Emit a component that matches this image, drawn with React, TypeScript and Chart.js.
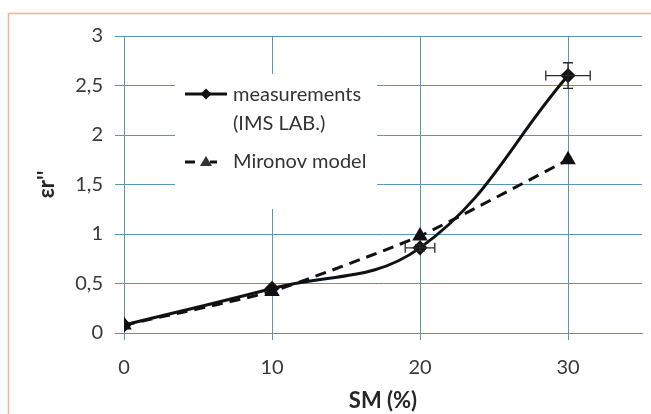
import React, { useEffect, useRef } from "react";
import { Chart, registerables } from "chart.js";

Chart.register(...registerables);

const smValues = [0, 10, 20, 30];
const measurements = [0.08, 0.45, 0.86, 2.6];
const measurementXErr = [0, 0, 1, 1.5];
const measurementYErr = [0, 0, 0.03, 0.13];
const mironov = [0.08, 0.42, 0.98, 1.75];
const yTickValues = [0, 0.5, 1, 1.5, 2, 2.5, 3];
const xTickValues = [0, 10, 20, 30];
const legendMeasurementLines = ["measurements", "(IMS LAB.)"];
const legendMironov = "Mironov model";

const FONT = "Lato, 'Open Sans', sans-serif";
const GRID = "#5a93b4";
const TEXT = "#383838";

const errorBarPlugin = {
  id: "errorBars",
  afterDatasetsDraw(chart: any) {
    const xs = chart.scales.x;
    const ys = chart.scales.y;
    const ctx = chart.ctx;
    ctx.save();
    ctx.strokeStyle = "#2a2a2a";
    ctx.lineWidth = 1.3;
    const cap = 5;
    smValues.forEach((xv, i) => {
      const yv = measurements[i];
      const px = xs.getPixelForValue(xv);
      const py = ys.getPixelForValue(yv);
      const ex = measurementXErr[i];
      const ey = measurementYErr[i];
      if (ex > 0) {
        const l = xs.getPixelForValue(xv - ex);
        const r = xs.getPixelForValue(xv + ex);
        ctx.beginPath();
        ctx.moveTo(l, py);
        ctx.lineTo(r, py);
        ctx.moveTo(l, py - cap);
        ctx.lineTo(l, py + cap);
        ctx.moveTo(r, py - cap);
        ctx.lineTo(r, py + cap);
        ctx.stroke();
      }
      if (ey > 0) {
        const t = ys.getPixelForValue(yv + ey);
        const b = ys.getPixelForValue(yv - ey);
        ctx.beginPath();
        ctx.moveTo(px, t);
        ctx.lineTo(px, b);
        ctx.moveTo(px - cap, t);
        ctx.lineTo(px + cap, t);
        ctx.moveTo(px - cap, b);
        ctx.lineTo(px + cap, b);
        ctx.stroke();
      }
    });
    ctx.restore();
  },
};

const frameLegendPlugin = {
  id: "frameLegend",
  beforeDraw(chart: any) {
    const ctx = chart.ctx;
    ctx.save();
    ctx.fillStyle = "#ffffff";
    ctx.fillRect(0, 0, chart.width, chart.height);
    ctx.strokeStyle = "#f0b49c";
    ctx.lineWidth = 1.5;
    ctx.beginPath();
    ctx.moveTo(8.5, chart.height + 5);
    ctx.lineTo(8.5, 13.5);
    ctx.lineTo(chart.width + 5, 13.5);
    ctx.stroke();
    ctx.restore();
  },
  afterDatasetsDraw(chart: any) {
    const ctx = chart.ctx;
    const a = chart.chartArea;
    const bx = a.left + 51;
    const by = a.top + 38;
    ctx.save();
    ctx.fillStyle = "#ffffff";
    ctx.fillRect(bx, by, 202, 135);
    // measurements sample
    const sx = bx + 10;
    const y1 = by + 20;
    ctx.strokeStyle = "#111";
    ctx.lineWidth = 3;
    ctx.setLineDash([]);
    ctx.beginPath();
    ctx.moveTo(sx, y1);
    ctx.lineTo(sx + 42, y1);
    ctx.stroke();
    ctx.fillStyle = "#111";
    ctx.beginPath();
    ctx.moveTo(sx + 21, y1 - 5.5);
    ctx.lineTo(sx + 26.5, y1);
    ctx.lineTo(sx + 21, y1 + 5.5);
    ctx.lineTo(sx + 15.5, y1);
    ctx.closePath();
    ctx.fill();
    // text
    ctx.fillStyle = "#333";
    ctx.font = `20px ${FONT}`;
    ctx.textBaseline = "middle";
    ctx.textAlign = "left";
    legendMeasurementLines.forEach((t, i) => ctx.fillText(t, sx + 48, y1 + 1 + i * 29));
    // mironov sample
    const y2 = by + 88;
    ctx.beginPath();
    ctx.moveTo(sx, y2);
    ctx.lineTo(sx + 10, y2);
    ctx.stroke();
    ctx.beginPath();
    ctx.moveTo(sx + 21, y2 - 6);
    ctx.lineTo(sx + 27, y2 + 4);
    ctx.lineTo(sx + 15, y2 + 4);
    ctx.closePath();
    ctx.fill();
    ctx.beginPath();
    ctx.moveTo(sx + 25, y2);
    ctx.lineTo(sx + 32, y2);
    ctx.stroke();
    ctx.fillText(legendMironov, sx + 48, y2);
    ctx.restore();
  },
};

export default function App() {
  const ref = useRef<HTMLCanvasElement | null>(null);
  useEffect(() => {
    if (!ref.current) return;
    const chart = new Chart(ref.current, {
      type: "line",
      data: {
        datasets: [
          {
            label: "measurements (IMS LAB.)",
            data: smValues.map((x, i) => ({ x, y: measurements[i] })),
            borderColor: "#111",
            backgroundColor: "#111",
            borderWidth: 3,
            pointStyle: "rectRot",
            pointRadius: 5.5,
            tension: 0.4,
          },
          {
            label: "Mironov model",
            data: smValues.map((x, i) => ({ x, y: mironov[i] })),
            borderColor: "#111",
            backgroundColor: "#111",
            borderWidth: 3,
            borderDash: [11, 7],
            pointStyle: "triangle",
            pointRadius: 6,
            tension: 0.15,
          },
        ],
      },
      options: {
        animation: false,
        responsive: false,
        maintainAspectRatio: false,
        layout: { padding: { left: 30, right: 8, top: 36, bottom: 0 } },
        plugins: { legend: { display: false }, tooltip: { enabled: false } },
        scales: {
          x: {
            type: "linear",
            min: 0,
            max: 35,
            afterBuildTicks: (s: any) => {
              s.ticks = xTickValues.map((v) => ({ value: v }));
            },
            afterFit: (s: any) => {
              s.height = 81;
            },
            grid: { color: GRID, tickLength: 7, lineWidth: 1 },
            border: { color: GRID, width: 1 },
            ticks: { color: TEXT, font: { family: FONT, size: 20 }, padding: 16 },
            title: {
              display: true,
              text: "SM (%)",
              color: "#262626",
              font: { family: FONT, size: 22, weight: "bold" },
              padding: { top: 0, bottom: 0 },
            },
          },
          y: {
            min: 0,
            max: 3,
            afterBuildTicks: (s: any) => {
              s.ticks = yTickValues.map((v) => ({ value: v }));
            },
            afterFit: (s: any) => {
              s.width = 94;
            },
            grid: { color: GRID, tickLength: 9, lineWidth: 1 },
            border: { color: GRID, width: 1 },
            ticks: {
              color: TEXT,
              font: { family: FONT, size: 20 },
              padding: 12,
              callback: (v: any) => String(v).replace(".", ","),
            },
            title: {
              display: true,
              text: "εr''",
              color: "#262626",
              font: { family: FONT, size: 22, weight: "bold" },
              padding: { top: 4, bottom: 0 },
            },
          },
        },
      },
      plugins: [frameLegendPlugin, errorBarPlugin],
    } as any);
    return () => chart.destroy();
  }, []);
  return (
    <div style={{ position: "absolute", left: 0, top: 0, width: 651, height: 414 }}>
      <canvas ref={ref} width={651} height={414} style={{ display: "block" }} />
    </div>
  );
}
